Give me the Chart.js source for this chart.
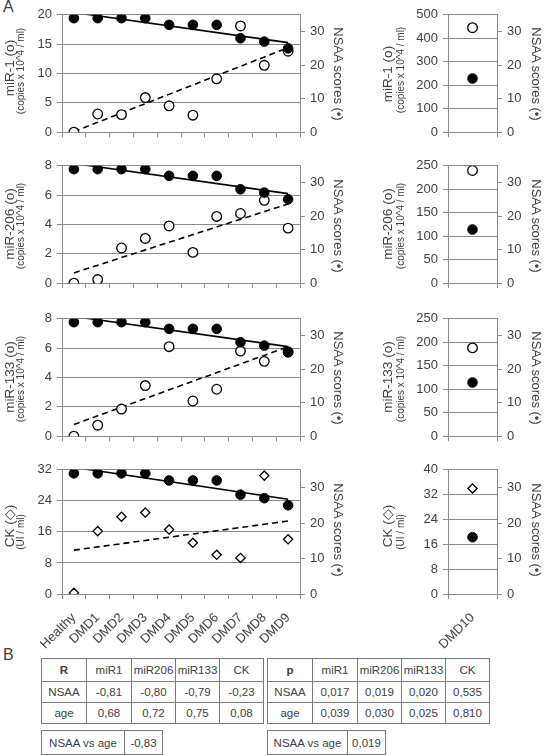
<!DOCTYPE html>
<html lang="en">
<head>
<meta charset="UTF-8">
<title>Circulating miRNAs and NSAA scores</title>
<script src="https://cdn.jsdelivr.net/npm/chart.js"></script>
<style>
  body { margin: 0; background: #fff; font-family: "Liberation Sans", Arial, sans-serif; color: #404040; }
  #page { position: relative; width: 544px; height: 755px; overflow: hidden; }
  canvas { position: absolute; }
  .t { position: absolute; white-space: nowrap; line-height: 1; }
  .up { transform: translate(-50%, -50%) rotate(-90deg); }
  .down { transform: translate(-50%, -50%) rotate(90deg); }
  .main { font-size: 13.5px; }
  .sub { font-size: 10px; }
  .nsaa { font-size: 13px; }
  .letter { font-size: 16px; }
  table { position: absolute; border-collapse: collapse; font-size: 11.5px; color: #404040; }
  td { border: 1px solid #7a7a7a; text-align: center; padding: 0; height: 20px; }
</style>
</head>
<body>
<div id="page">
  <div class="t letter" style="left:3px; top:-1px;">A</div>
  <div class="t letter" style="left:3px; top:647px;">B</div>

  <canvas id="c1" width="350" height="143" style="left:0; top:2px;"></canvas>
  <canvas id="c2" width="350" height="143" style="left:0; top:153px;"></canvas>
  <canvas id="c3" width="350" height="143" style="left:0; top:306px;"></canvas>
  <canvas id="c4" width="350" height="199" style="left:0; top:457px;"></canvas>
  <canvas id="d1" width="184" height="143" style="left:360px; top:2px;"></canvas>
  <canvas id="d2" width="184" height="143" style="left:360px; top:153px;"></canvas>
  <canvas id="d3" width="184" height="143" style="left:360px; top:306px;"></canvas>
  <canvas id="d4" width="184" height="199" style="left:360px; top:457px;"></canvas>

  <!-- left y titles -->
  <div class="t up main" style="left:10px; top:68px;">miR-1 (o)</div>
  <div class="t up sub" style="left:21px; top:71px;">(copies x 10^4 / ml)</div>
  <div class="t up main" style="left:10px; top:224px;">miR-206 (o)</div>
  <div class="t up sub" style="left:21px; top:226px;">(copies x 10^4 / ml)</div>
  <div class="t up main" style="left:10px; top:377px;">miR-133 (o)</div>
  <div class="t up sub" style="left:21px; top:379px;">(copies x 10^4 / ml)</div>
  <div class="t up main" style="left:10px; top:526px;">CK (◇)</div>
  <div class="t up sub" style="left:21px; top:532px;">(UI / ml)</div>

  <div class="t up main" style="left:388px; top:74px;">miR-1 (o)</div>
  <div class="t up sub" style="left:401px; top:70px;">(copies x 10^4 / ml)</div>
  <div class="t up main" style="left:388px; top:224px;">miR-206 (o)</div>
  <div class="t up sub" style="left:401px; top:226px;">(copies x 10^4 / ml)</div>
  <div class="t up main" style="left:388px; top:377px;">miR-133 (o)</div>
  <div class="t up sub" style="left:401px; top:379px;">(copies x 10^4 / ml)</div>
  <div class="t up main" style="left:388px; top:526px;">CK (◇)</div>
  <div class="t up sub" style="left:401px; top:532px;">(UI / ml)</div>

  <!-- right y titles -->
  <div class="t down nsaa" style="left:338px; top:74px;">NSAA scores (•)</div>
  <div class="t down nsaa" style="left:338px; top:226px;">NSAA scores (•)</div>
  <div class="t down nsaa" style="left:338px; top:378px;">NSAA scores (•)</div>
  <div class="t down nsaa" style="left:338px; top:530px;">NSAA scores (•)</div>
  <div class="t down nsaa" style="left:536px; top:74px;">NSAA scores (•)</div>
  <div class="t down nsaa" style="left:536px; top:226px;">NSAA scores (•)</div>
  <div class="t down nsaa" style="left:536px; top:378px;">NSAA scores (•)</div>
  <div class="t down nsaa" style="left:536px; top:530px;">NSAA scores (•)</div>

  <table id="tR" style="left:41px; top:658px;"></table>
  <table id="tRage" style="left:41px; top:730px;"></table>
  <table id="tP" style="left:267px; top:658px;"></table>
  <table id="tPage" style="left:267px; top:730px;"></table>
</div>

<script>
  // categories
  const categories = ['Healthy', 'DMD1', 'DMD2', 'DMD3', 'DMD4', 'DMD5', 'DMD6', 'DMD7', 'DMD8', 'DMD9'];
  const extraCategory = ['DMD10'];

  // NSAA scores (right axis, filled circles)
  const nsaa = [34, 34, 34, 34, 32, 32, 32, 28, 27, 25];
  const nsaaDMD10 = [16];

  // open markers (left axis)
  const mir1 = [0, 3.1, 3.0, 5.9, 4.5, 2.9, 9.1, 18.1, 11.4, 13.8];
  const mir206 = [0, 0.25, 2.4, 3.05, 3.9, 2.1, 4.55, 4.75, 5.65, 3.75];
  const mir133 = [0, 0.75, 1.85, 3.45, 6.1, 2.4, 3.2, 5.8, 5.1, 5.75];
  const ck = [0.3, 16.2, 19.9, 21.0, 16.6, 13.2, 10.1, 9.3, 30.5, 14.1];

  // DMD10 values
  const mir1DMD10 = [445];
  const mir206DMD10 = [240];
  const mir133DMD10 = [188];
  const ckDMD10 = [34];

  // trend lines (value at Healthy, value at DMD9)
  const nsaaTrend = [35.7, 26.7];
  const mir1Trend = [0.1, 14.4];
  const mir206Trend = [0.7, 5.4];
  const mir133Trend = [0.8, 6.1];
  const ckTrend = [11.3, 18.8];

  // table values
  const tableCols = ['miR1', 'miR206', 'miR133', 'CK'];
  const rNsaa = ['-0,81', '-0,80', '-0,79', '-0,23'];
  const rAge = ['0,68', '0,72', '0,75', '0,08'];
  const rNsaaAge = '-0,83';
  const pNsaa = ['0,017', '0,019', '0,020', '0,535'];
  const pAge = ['0,039', '0,030', '0,025', '0,810'];
  const pNsaaAge = '0,019';

  const gridColor = '#8a8a8a';
  const textColor = '#404040';
  const tickFont = { family: '"Liberation Sans", Arial, sans-serif', size: 13 };

  function makePanel(id, opts) {
    const labels = opts.labels;
    const first = labels[0], last = labels[labels.length - 1];
    const datasets = [
      { data: opts.nsaa, yAxisID: 'y2', showLine: false, pointStyle: 'circle', pointRadius: 4.8,
        pointBackgroundColor: '#000', pointBorderColor: '#000', pointBorderWidth: 1, order: 0 },
      { data: opts.values, yAxisID: 'y', showLine: false, pointStyle: opts.marker,
        pointRadius: opts.marker === 'rectRot' ? 4.6 : 4.8,
        pointBackgroundColor: '#fff', pointBorderColor: '#000', pointBorderWidth: 1.3, order: 1 }
    ];
    if (opts.trend) {
      datasets.push({ data: [{ x: first, y: nsaaTrend[0] }, { x: last, y: nsaaTrend[1] }], yAxisID: 'y2',
        borderColor: '#000', borderWidth: 1.6, pointRadius: 0, order: 2 });
      datasets.push({ data: [{ x: first, y: opts.trend[0] }, { x: last, y: opts.trend[1] }], yAxisID: 'y',
        borderColor: '#000', borderWidth: 1.6, borderDash: [6, 4], pointRadius: 0, order: 3 });
    }
    new Chart(document.getElementById(id), {
      type: 'line',
      data: { labels: labels, datasets: datasets },
      options: {
        responsive: false,
        animation: false,
        events: [],
        layout: { padding: { top: 10, left: 0, right: 0, bottom: 0 } },
        plugins: { legend: { display: false }, tooltip: { enabled: false } },
        scales: {
          x: {
            type: 'category', offset: true,
            grid: { display: true, drawOnChartArea: false, drawTicks: true, tickLength: 5, offset: true, color: gridColor },
            border: { color: gridColor },
            ticks: { display: opts.showX, autoSkip: false, minRotation: 45, maxRotation: 45, font: tickFont, color: textColor, padding: 11 },
            afterFit: s => { s.height = opts.xh; }
          },
          y: {
            position: 'left', min: 0, max: opts.yMax,
            grid: { color: gridColor, tickLength: 5 },
            border: { color: gridColor },
            ticks: { stepSize: opts.yStep, font: tickFont, color: textColor, padding: 5 },
            afterFit: s => { s.width = opts.leftW; }
          },
          y2: {
            position: 'right', min: 0, max: 35,
            grid: { drawOnChartArea: false, tickLength: 5, color: gridColor },
            border: { color: gridColor },
            ticks: { stepSize: 5, font: tickFont, color: textColor, padding: 5 },
            afterFit: s => { s.width = opts.rightW; }
          }
        }
      }
    });
  }

  const left = { labels: categories, nsaa: nsaa, leftW: 62, rightW: 50 };
  makePanel('c1', { ...left, values: mir1, trend: mir1Trend, yMax: 20, yStep: 5, marker: 'circle', showX: false, xh: 8 });
  makePanel('c2', { ...left, values: mir206, trend: mir206Trend, yMax: 8, yStep: 2, marker: 'circle', showX: false, xh: 8 });
  makePanel('c3', { ...left, values: mir133, trend: mir133Trend, yMax: 8, yStep: 2, marker: 'circle', showX: false, xh: 8 });
  makePanel('c4', { ...left, values: ck, trend: ckTrend, yMax: 32, yStep: 8, marker: 'rectRot', showX: true, xh: 62 });

  const right = { labels: extraCategory, nsaa: nsaaDMD10, leftW: 88, rightW: 47 };
  makePanel('d1', { ...right, values: mir1DMD10, yMax: 500, yStep: 100, marker: 'circle', showX: false, xh: 8 });
  makePanel('d2', { ...right, values: mir206DMD10, yMax: 250, yStep: 50, marker: 'circle', showX: false, xh: 8 });
  makePanel('d3', { ...right, values: mir133DMD10, yMax: 250, yStep: 50, marker: 'circle', showX: false, xh: 8 });
  makePanel('d4', { ...right, values: ckDMD10, yMax: 40, yStep: 8, marker: 'rectRot', showX: true, xh: 62 });

  // tables
  const colW = [44, 44, 43, 43, 43];
  function fillTable(id, head, rows) {
    const t = document.getElementById(id);
    const all = [[head, ...tableCols], ...rows];
    all.forEach((r, ri) => {
      const tr = document.createElement('tr');
      r.forEach((v, ci) => {
        const td = document.createElement('td');
        td.textContent = v;
        td.style.width = colW[ci] + 'px';
        if (ri === 0) td.style.height = '22px';
        if (ri === 0 && ci === 0) td.style.fontWeight = 'bold';
        tr.appendChild(td);
      });
      t.appendChild(tr);
    });
  }
  fillTable('tR', 'R', [['NSAA', ...rNsaa], ['age', ...rAge]]);
  fillTable('tP', 'p', [['NSAA', ...pNsaa], ['age', ...pAge]]);

  function smallTable(id, w1, value) {
    const t = document.getElementById(id);
    const tr = document.createElement('tr');
    const a = document.createElement('td');
    a.textContent = 'NSAA vs age'; a.style.width = w1 + 'px'; a.style.height = '23px';
    const b = document.createElement('td');
    b.textContent = value; b.style.width = '37px';
    tr.appendChild(a); tr.appendChild(b); t.appendChild(tr);
  }
  smallTable('tRage', 82, rNsaaAge);
  smallTable('tPage', 79, pNsaaAge);
</script>
</body>
</html>
